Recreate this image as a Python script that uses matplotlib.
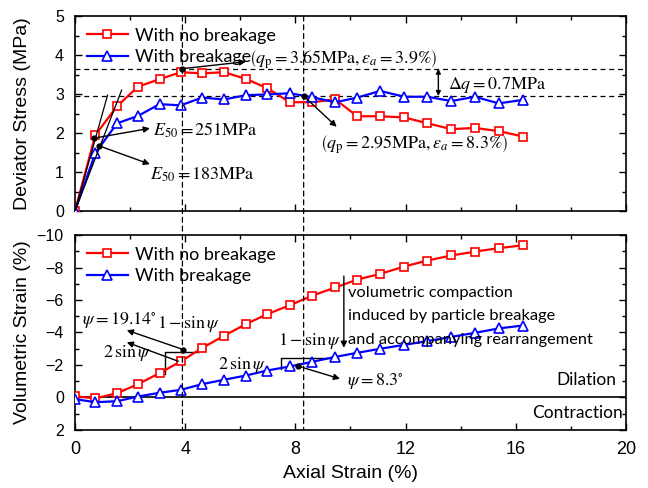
import numpy as np
import matplotlib
matplotlib.use('Agg')
import matplotlib.pyplot as plt
from matplotlib.patches import ConnectionPatch
from matplotlib.ticker import MultipleLocator

plt.rcParams['font.family'] = 'Liberation Sans'
plt.rcParams['mathtext.fontset'] = 'stix'

# axial strain (%) at the marker points, shared by all four curves
strain = [0, 0.74, 1.53, 2.29, 3.07, 3.84, 4.61, 5.41, 6.20, 6.98, 7.80,
          8.60, 9.45, 10.25, 11.08, 11.95, 12.79, 13.66, 14.52, 15.38, 16.26]

# deviator stress (MPa)
q_nobreak = [0, 1.95, 2.69, 3.19, 3.38, 3.56, 3.53, 3.56, 3.39, 3.15, 2.79,
             2.79, 2.86, 2.43, 2.43, 2.40, 2.25, 2.10, 2.13, 2.05, 1.91]
q_break = [0, 1.49, 2.25, 2.44, 2.74, 2.71, 2.91, 2.86, 2.97, 2.99, 3.02,
           2.92, 2.79, 2.91, 3.08, 2.93, 2.93, 2.82, 2.93, 2.76, 2.85]

# volumetric strain (%)
ev_nobreak = [-0.08, 0.06, -0.27, -0.82, -1.50, -2.22, -3.04, -3.80, -4.51, -5.13, -5.68,
              -6.26, -6.77, -7.26, -7.61, -8.06, -8.43, -8.74, -8.98, -9.19, -9.37]
ev_break = [0.10, 0.29, 0.23, -0.06, -0.29, -0.47, -0.82, -1.09, -1.35, -1.66, -1.91,
            -2.19, -2.50, -2.75, -3.00, -3.24, -3.47, -3.73, -3.98, -4.25, -4.43]

labels = ['With no breakage', 'With breakage']

# peak / residual points and secant moduli
qp1, ea1 = 3.65, 3.9
qp2, ea2 = 2.95, 8.3
E50_nobreak, E50_break = 251, 183

fig = plt.figure(figsize=(6.48, 4.88), dpi=100)
ax1 = fig.add_axes([0.1157, 0.5676, 0.8503, 0.3995])
ax2 = fig.add_axes([0.1157, 0.1189, 0.8503, 0.3995])

sty_r = dict(color='red', marker='s', ms=6, mfc='white', mec='red', mew=1.2, lw=1.6)
sty_b = dict(color='blue', marker='^', ms=7, mfc='white', mec='blue', mew=1.2, lw=1.6)

ax1.plot(strain, q_nobreak, label=labels[0], zorder=3, **sty_r)
ax1.plot(strain, q_break, label=labels[1], zorder=3, **sty_b)
ax2.plot(strain, ev_nobreak, label=labels[0], zorder=3, **sty_r)
ax2.plot(strain, ev_break, label=labels[1], zorder=3, **sty_b)

for ax in (ax1, ax2):
    ax.set_xlim(0, 20)
    ax.xaxis.set_major_locator(MultipleLocator(4))
    ax.xaxis.set_minor_locator(MultipleLocator(2))
    ax.tick_params(which='both', direction='in', top=True, right=True)
    ax.tick_params(axis='x', labelsize=13, pad=8)
    ax.tick_params(axis='y', labelsize=11.5, pad=8)
    ax.tick_params(which='major', length=5, width=1)
    ax.tick_params(which='minor', length=3, width=1)
    for s in ax.spines.values():
        s.set_linewidth(1.2)
    ax.legend(loc='upper left', frameon=False, handlelength=2.3, handletextpad=0.35,
              borderaxespad=0.25, labelspacing=0.3,
              prop={'family': 'Lato', 'size': 13})

ax1.set_ylim(0, 5)
ax1.yaxis.set_major_locator(MultipleLocator(1))
ax1.yaxis.set_minor_locator(MultipleLocator(0.5))
ax1.tick_params(labelbottom=False)
ax1.set_ylabel('Deviator Stress (MPa)', fontsize=14)
ax1.yaxis.set_label_coords(-0.08, 0.5)

ax2.set_ylim(2, -10)
ax2.yaxis.set_major_locator(MultipleLocator(2))
ax2.yaxis.set_minor_locator(MultipleLocator(1))
ax2.set_ylabel('Volumetric Strain (%)', fontsize=14)
ax2.yaxis.set_label_coords(-0.08, 0.5)
ax2.set_xlabel('Axial Strain (%)', fontsize=14)
ax2.xaxis.set_label_coords(0.5, -0.18)
ax2.axhline(0, color='black', lw=1.2, zorder=2)

# dashed reference lines
for q in (qp1, qp2):
    ax1.axhline(q, color='black', ls=(0, (4, 3)), lw=0.9, zorder=1)
for ea in (ea1, ea2):
    con = ConnectionPatch(xyA=(ea, 5), coordsA='data', axesA=ax1,
                          xyB=(ea, 2), coordsB='data', axesB=ax2,
                          color='black', ls=(0, (4, 3)), lw=0.9)
    fig.add_artist(con)

arr = dict(arrowstyle='-|>', color='black', lw=1.0, mutation_scale=9, shrinkA=0, shrinkB=0)
tfs = 13

# secant modulus lines
for E, ytop in ((E50_nobreak, 2.97), (E50_break, 3.10)):
    ax1.plot([0, ytop / (E / 100)], [0, ytop], color='black', lw=0.9, zorder=4)
ax1.plot([0.70, 0.88], [1.87, 1.67], 'o', color='black', ms=3.5, zorder=5)
ax1.annotate('', xy=(2.72, 2.12), xytext=(0.70, 1.87), arrowprops=arr)
ax1.annotate('', xy=(2.72, 1.20), xytext=(0.88, 1.67), arrowprops=arr)
ax1.text(2.83, 2.08, r'$E_{50}=\mathrm{%dMPa}$' % E50_nobreak, fontsize=tfs, va='center')
ax1.text(2.72, 0.92, r'$E_{50}=\mathrm{%dMPa}$' % E50_break, fontsize=tfs, va='center')

# peak and residual strength
ax1.plot([ea1, ea2], [qp1, qp2], 'o', color='black', ms=3.5, zorder=5)
ax1.annotate('', xy=(6.2, 3.83), xytext=(ea1, qp1), arrowprops=arr)
ax1.annotate('', xy=(9.5, 2.16), xytext=(ea2, qp2), arrowprops=arr)
ax1.text(6.3, 3.87, r'$\left(q_\mathrm{p}=\mathrm{%.2fMPa},\varepsilon_a=\mathrm{%.1f\%%}\right)$'
         % (qp1, ea1), fontsize=tfs, va='center')
ax1.text(8.9, 1.69, r'$\left(q_\mathrm{p}=\mathrm{%.2fMPa},\varepsilon_a=\mathrm{%.1f\%%}\right)$'
         % (qp2, ea2), fontsize=tfs, va='center')
ax1.annotate('', xy=(13.19, qp2), xytext=(13.19, qp1),
             arrowprops=dict(arrowstyle='<|-|>', color='black', lw=1.0,
                             mutation_scale=7, shrinkA=0, shrinkB=0))
ax1.text(13.54, 3.22, r'$\Delta q=\mathrm{%.1fMPa}$' % (qp1 - qp2), fontsize=tfs, va='center')

# dilatancy triangles
ax2.plot([3.27, 3.27, 4.48], [-1.42, -2.79, -2.79], color='black', lw=1.0)
ax2.plot([7.47, 7.47, 9.56], [-1.77, -2.44, -2.44], color='black', lw=1.0)
ax2.plot([3.93, 8.1], [-2.95, -1.93], 'o', color='black', ms=3.5, zorder=5)
ax2.annotate('', xy=(1.88, -4.14), xytext=(3.93, -2.95), arrowprops=arr)
ax2.annotate('', xy=(1.88, -3.40), xytext=(3.75, -2.23), arrowprops=arr)
ax2.annotate('', xy=(9.62, -1.15), xytext=(8.1, -1.93), arrowprops=arr)
ax2.text(0.24, -4.8, r'$\psi=19.14^{\circ}$', fontsize=tfs, va='center')
ax2.text(2.96, -4.55, r'$1-\sin\psi$', fontsize=tfs, va='center')
ax2.text(1.03, -2.75, r'$2\,\sin\psi$', fontsize=tfs, va='center')
ax2.text(7.38, -3.47, r'$1-\sin\psi$', fontsize=tfs, va='center')
ax2.text(5.2, -2.03, r'$2\,\sin\psi$', fontsize=tfs, va='center')
ax2.text(9.86, -1.0, r'$\psi=8.3^{\circ}$', fontsize=tfs, va='center')

ax2.annotate('', xy=(9.76, -3.06), xytext=(9.76, -7.47), arrowprops=arr)
for txt, y in (('volumetric compaction', -6.44),
               ('induced by particle breakage', -5.0),
               ('and accompanying rearrangement', -3.53)):
    ax2.text(9.92, y, txt, fontsize=11.8, family='Lato', va='center')

ax2.text(19.64, -1.05, 'Dilation', fontsize=12.5, family='Lato', va='center', ha='right')
ax2.text(19.9, 0.94, 'Contraction', fontsize=12.5, family='Lato', va='center', ha='right')

fig.savefig('out.png', dpi=100)
